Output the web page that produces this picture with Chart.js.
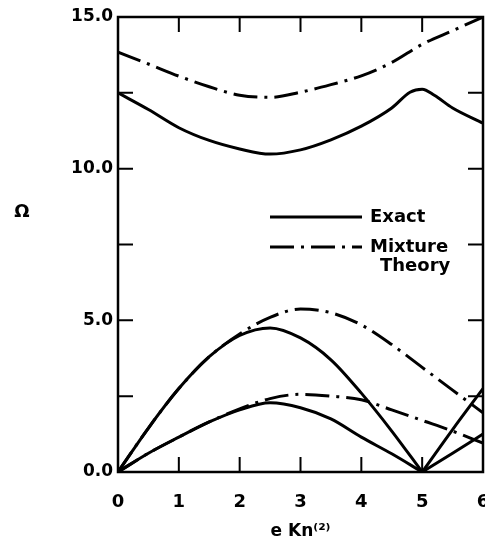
<!DOCTYPE html>
<html>
<head>
<meta charset="utf-8">
<script src="https://cdn.jsdelivr.net/npm/chart.js@4/dist/chart.umd.min.js"></script>
<style>
  body { margin: 0; background: #fff; }
  canvas { display: block; }
</style>
</head>
<body>
<canvas id="dispersionChart" width="485" height="542"></canvas>
<script>
// tick labels
const xTickValues = [0, 1, 2, 3, 4, 5, 6];
const yTickValues = [0, 5, 10, 15];
const yMinorTicks = [2.5, 7.5, 12.5];

// upper (optical) branches
const opticX = [0, 0.5, 1, 1.5, 2, 2.5, 3, 3.5, 4, 4.5, 4.8, 5, 5.2, 5.5, 6];
const exactOpticY = [12.5, 11.95, 11.35, 10.93, 10.65, 10.48, 10.62, 10.95, 11.4, 12.0, 12.52, 12.62, 12.42, 12.0, 11.5];
const mixOpticX = [0, 0.5, 1, 1.5, 2, 2.5, 3, 3.5, 4, 4.5, 5, 5.5, 6];
const mixOpticY = [13.84, 13.45, 13.05, 12.7, 12.42, 12.35, 12.52, 12.77, 13.06, 13.5, 14.1, 14.55, 15.0];

// lower (acoustic) branches, exact, up to the zero at 5
const acousticX = [0, 0.5, 1, 1.5, 2, 2.5, 3, 3.5, 4, 4.5, 5];
const exactAc1Y = [0, 1.45, 2.75, 3.8, 4.5, 4.75, 4.42, 3.7, 2.6, 1.35, 0];
const exactAc2Y = [0, 0.62, 1.15, 1.65, 2.05, 2.28, 2.12, 1.75, 1.15, 0.6, 0];

// exact branches past 5
const reflX = [5, 5.5, 6];
const exactRefl1Y = [0, 1.4, 2.75];
const exactRefl2Y = [0, 0.62, 1.25];

// mixture theory acoustic branches
const mixAcX = [0, 0.5, 1, 1.5, 2, 2.5, 3, 3.5, 4, 4.5, 5, 5.5, 6];
const mixAc1Y = [0, 1.45, 2.75, 3.8, 4.55, 5.1, 5.37, 5.25, 4.85, 4.2, 3.45, 2.7, 1.95];
const mixAc2Y = [0, 0.62, 1.15, 1.65, 2.08, 2.42, 2.56, 2.5, 2.38, 2.05, 1.7, 1.35, 0.95];

const dashDot = [24, 7, 3, 7];

function pts(xs, ys) {
  return xs.map((x, i) => ({ x: x, y: ys[i] }));
}

function solid(xs, ys) {
  return {
    data: pts(xs, ys),
    borderColor: '#000',
    borderWidth: 3,
    pointRadius: 0,
    cubicInterpolationMode: 'monotone'
  };
}

function dashed(xs, ys) {
  const d = solid(xs, ys);
  d.borderDash = dashDot;
  return d;
}

// frame, inward ticks, legend and the Omega label
const decorations = {
  id: 'decorations',
  afterDraw(chart) {
    const ctx = chart.ctx;
    const a = chart.chartArea;
    const xs = chart.scales.x, ys = chart.scales.y;
    const len = 15;
    ctx.save();
    ctx.strokeStyle = '#000';
    ctx.lineWidth = 2.5;
    ctx.strokeRect(a.left, a.top, a.right - a.left, a.bottom - a.top);

    ctx.lineWidth = 2;
    ctx.beginPath();
    xTickValues.slice(1, -1).forEach(v => {
      const px = xs.getPixelForValue(v);
      ctx.moveTo(px, a.bottom); ctx.lineTo(px, a.bottom - len);
      ctx.moveTo(px, a.top); ctx.lineTo(px, a.top + len);
    });
    yTickValues.slice(1, -1).concat(yMinorTicks).forEach(v => {
      const py = ys.getPixelForValue(v);
      ctx.moveTo(a.left, py); ctx.lineTo(a.left + len, py);
      ctx.moveTo(a.right, py); ctx.lineTo(a.right - len, py);
    });
    ctx.stroke();

    // legend
    ctx.lineWidth = 3;
    ctx.beginPath();
    ctx.moveTo(270, 217); ctx.lineTo(362, 217);
    ctx.stroke();
    ctx.setLineDash(dashDot);
    ctx.beginPath();
    ctx.moveTo(270, 247); ctx.lineTo(362, 247);
    ctx.stroke();
    ctx.setLineDash([]);

    ctx.fillStyle = '#000';
    ctx.font = 'bold 18px "DejaVu Sans"';
    ctx.textAlign = 'left';
    ctx.textBaseline = 'middle';
    ctx.fillText('Exact', 370, 217);
    ctx.fillText('Mixture', 370, 247);
    ctx.fillText('Theory', 380, 266);

    ctx.textAlign = 'center';
    ctx.fillText('Ω', 22, 212);
    ctx.restore();
  }
};

new Chart(document.getElementById('dispersionChart'), {
  type: 'line',
  data: {
    datasets: [
      solid(opticX, exactOpticY),
      dashed(mixOpticX, mixOpticY),
      solid(acousticX, exactAc1Y),
      solid(acousticX, exactAc2Y),
      solid(reflX, exactRefl1Y),
      solid(reflX, exactRefl2Y),
      dashed(mixAcX, mixAc1Y),
      dashed(mixAcX, mixAc2Y)
    ]
  },
  options: {
    responsive: false,
    animation: false,
    layout: { padding: { top: 17, right: 2, left: 0, bottom: 0 } },
    plugins: { legend: { display: false }, tooltip: { enabled: false } },
    scales: {
      x: {
        type: 'linear',
        min: 0,
        max: 6,
        afterBuildTicks: s => { s.ticks = xTickValues.map(v => ({ value: v })); },
        afterFit: s => { s.height = 70; s.paddingLeft = 0; s.paddingRight = 0; },
        grid: { display: false, drawTicks: false },
        border: { display: false },
        ticks: {
          padding: 20,
          color: '#000',
          maxRotation: 0,
          autoSkip: false,
          font: { family: 'DejaVu Sans', size: 18, weight: 'bold' }
        },
        title: {
          display: true,
          text: 'e Kn⁽²⁾',
          color: '#000',
          padding: 0,
          font: { family: 'DejaVu Sans', size: 17, weight: 'bold' }
        }
      },
      y: {
        min: 0,
        max: 15,
        afterBuildTicks: s => { s.ticks = yTickValues.map(v => ({ value: v })); },
        afterFit: s => { s.width = 118; s.paddingTop = 0; s.paddingBottom = 0; },
        grid: { display: false, drawTicks: false },
        border: { display: false },
        ticks: {
          padding: 5,
          color: '#000',
          callback: v => v.toFixed(1),
          font: { family: 'DejaVu Sans', size: 17, weight: 'bold' }
        }
      }
    }
  },
  plugins: [decorations]
});
</script>
</body>
</html>
